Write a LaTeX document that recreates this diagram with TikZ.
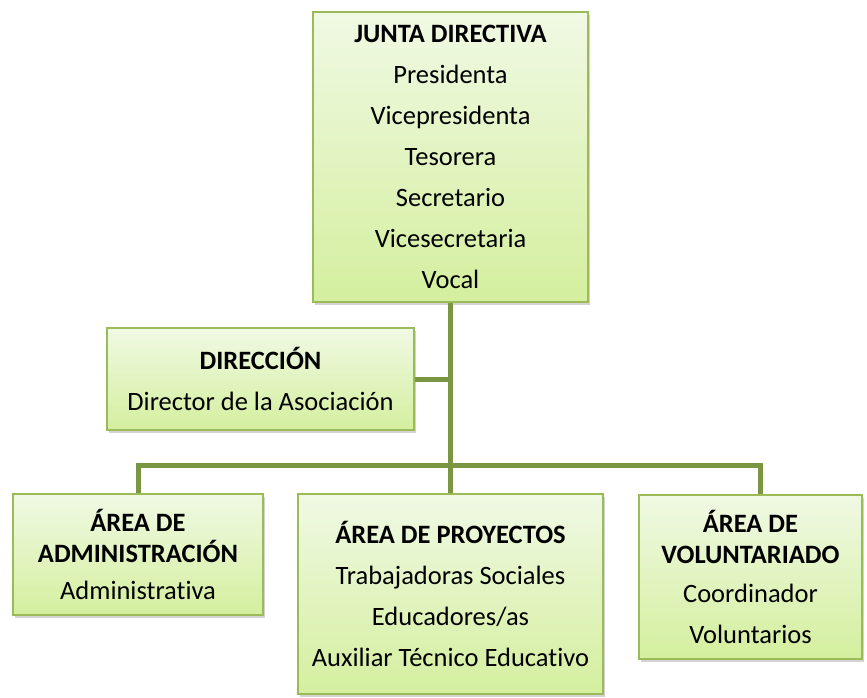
\documentclass[tikz,border=0pt]{standalone}
\usepackage{fontspec}
\setmainfont{Carlito}[Ligatures=NoCommon]
\usetikzlibrary{shadows}
\definecolor{boxtop}{RGB}{240,249,228}
\definecolor{boxbot}{RGB}{212,239,158}
\definecolor{boxline}{RGB}{155,187,89}
\definecolor{connline}{RGB}{122,150,66}
\tikzset{
  orgbox/.style={draw=boxline, line width=1.5pt, top color=boxtop, bottom color=boxbot,
    inner sep=0pt, align=center, font=\fontsize{26.5}{41}\selectfont,
    drop shadow={opacity=0.35, shadow xshift=2pt, shadow yshift=-3pt}},
  conn/.style={draw=connline, line width=5pt, line join=miter}
}
\begin{document}
\begin{tikzpicture}[x=1pt,y=1pt]
\useasboundingbox (0,0) rectangle (867,-697);
\node[orgbox, minimum width=275, minimum height=290] (junta) at (450.5,-157)
  {\textbf{JUNTA DIRECTIVA}\\Presidenta\\Vicepresidenta\\Tesorera\\Secretario\\Vicesecretaria\\Vocal};
\node[orgbox, minimum width=307, minimum height=102] (dir) at (260.5,-379)
  {\textbf{DIRECCIÓN}\\Director de la Asociación};
\node[orgbox, minimum width=250, minimum height=121] (adm) at (138,-554.5)
  {\textbf{ÁREA DE}\\[-10pt]\textbf{ADMINISTRACIÓN}\\[-4pt]Administrativa};
\node[orgbox, minimum width=305, minimum height=200] (proy) at (450.5,-594)
  {\textbf{ÁREA DE PROYECTOS}\\Trabajadoras Sociales\\Educadores/as\\Auxiliar Técnico Educativo};
\node[orgbox, minimum width=223, minimum height=164] (vol) at (750.5,-577)
  {\textbf{ÁREA DE}\\[-10pt]\textbf{VOLUNTARIADO}\\[-2pt]Coordinador\\Voluntarios};
\coordinate (xv) at (760,-465);
\draw[conn] (junta.south) -- (proy.north);
\draw[conn] (dir.east) -- (dir.east -| junta.south);
\draw[conn] (adm.north) |- (xv) -- (xv |- vol.north);
\end{tikzpicture}
\end{document}
